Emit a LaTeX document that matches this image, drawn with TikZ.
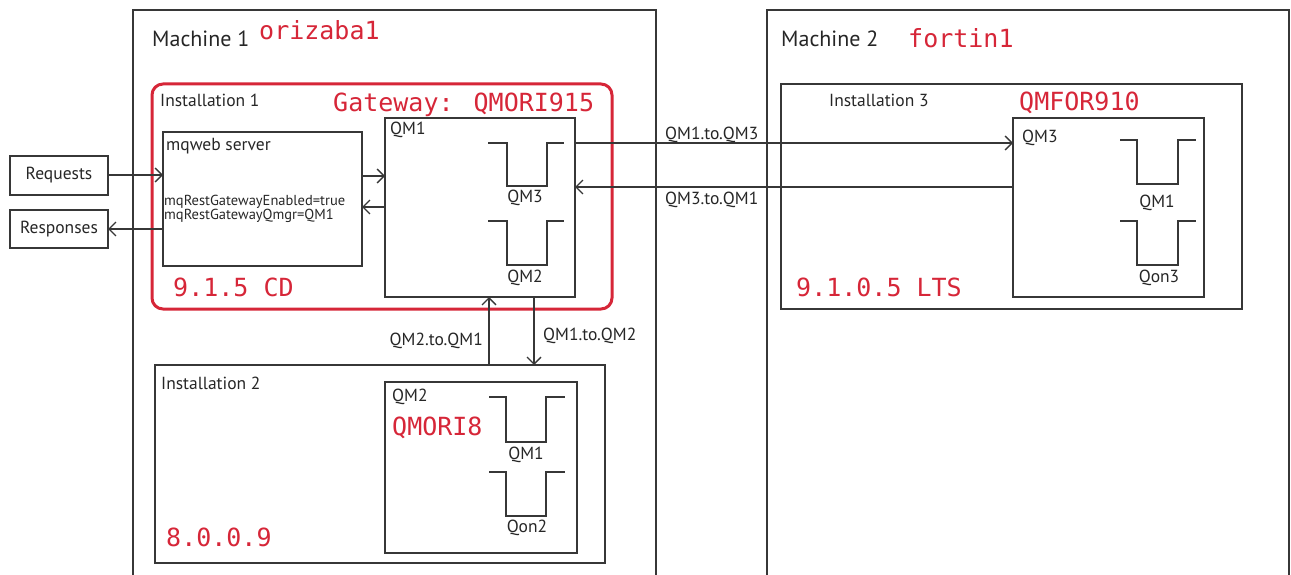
\documentclass[tikz,border=0pt]{standalone}
\usepackage{fontspec}
\setmainfont{PT Sans}
\newfontfamily\redmono{DejaVu Sans Mono}
\usetikzlibrary{fit,arrows.meta}
\definecolor{ibmred}{RGB}{214,38,56}
\definecolor{lineg}{RGB}{55,55,55}
\tikzset{
  box/.style={draw=lineg, line width=1.3pt, inner sep=0pt, outer sep=0pt},
  redbox/.style={draw=ibmred, line width=3pt, rounded corners=11pt, inner sep=0pt, outer sep=0pt},
  arr/.style={draw=lineg, line width=1.3pt, -{Straight Barb[length=7pt,width=14pt,line width=1.3pt]}},
  queue/.style={draw=lineg, line width=1.3pt},
  lbl/.style={inner sep=0pt, anchor=west, text=black!85},
  big/.style={lbl, font=\fontsize{22}{25}\selectfont},
  mid/.style={lbl, font=\fontsize{17.5}{20}\selectfont},
  small/.style={lbl, font=\fontsize{14.5}{16}\selectfont},
  rmono/.style={inner sep=0pt, anchor=west, text=ibmred, font=\redmono\fontsize{25}{28}\selectfont},
}
\begin{document}
\begin{tikzpicture}[x=1pt,y=-1pt]
\useasboundingbox (0,0) rectangle (1291,575);
\clip (0,0) rectangle (1291,575);
% machines
\node[box, fit={(133,10) (656,600)}] (m1) {};
\node[box, fit={(767,10) (1289,600)}] (m2) {};
\node[big] (m1t) at (152,39) {Machine 1};
\node[rmono] (m1n) at (259,30) {orizaba1};
\node[big] (m2t) at (781,39) {Machine 2};
\node[rmono] (m2n) at (908,38) {fortin1};
% installation 1
\node[redbox, fit={(152,84) (612,309)}] (inst1) {};
\node[mid] (inst1t) at (160,100) {Installation 1};
\node[rmono] (gw) at (333,105) {Gateway: QMORI915};
\node[rmono] (v1) at (173,287) {9.1.5 CD};
\node[box, fit={(163,132) (362,266)}] (mqweb) {};
\node[mid] (mqwebt) at (166,146) {mqweb server};
\node[small] (prop1) at (164,202) {mqRestGatewayEnabled=true};
\node[small] (prop2) at (164,216) {mqRestGatewayQmgr=QM1};
\node[box, fit={(385,118) (575,297)}] (qm1) {};
\node[mid] (qm1t) at (390,130) {QM1};
\draw[queue] (488,143) -- (507,143) -- (507,186) -- (547,186) -- (547,143) -- (564,143);
\node[mid, anchor=center] (q13) at (525,198) {QM3};
\draw[queue] (488,221) -- (507,221) -- (507,265) -- (547,265) -- (547,221) -- (564,221);
\node[mid, anchor=center] (q12) at (525,278) {QM2};
% requests / responses
\node[box, fit={(10,156) (108,195)}] (req) {};
\node[mid, anchor=center] at (req.center) {Requests};
\node[box, fit={(10,210) (108,248)}] (resp) {};
\node[mid, anchor=center] at (resp.center) {Responses};
% installation 3
\node[box, fit={(781,84) (1242,309)}] (inst3) {};
\node[mid] (inst3t) at (829,100) {Installation 3};
\node[rmono] (qmfor) at (1019,103) {QMFOR910};
\node[rmono] (v3) at (796,287) {9.1.0.5 LTS};
\node[box, fit={(1013,118) (1204,297)}] (qm3) {};
\node[mid] (qm3t) at (1022,138) {QM3};
\draw[queue] (1120,140) -- (1137,140) -- (1137,184) -- (1178,184) -- (1178,140) -- (1196,140);
\node[mid, anchor=center] (q31) at (1157,203) {QM1};
\draw[queue] (1120,221) -- (1137,221) -- (1137,265) -- (1178,265) -- (1178,221) -- (1196,221);
\node[mid, anchor=center] (q3on) at (1159,278) {Qon3};
% installation 2
\node[box, fit={(155,365) (605,563)}] (inst2) {};
\node[mid] (inst2t) at (161,383) {Installation 2};
\node[rmono] (v2) at (166,537) {8.0.0.9};
\node[box, fit={(385,382) (577,553)}] (qm2) {};
\node[mid] (qm2t) at (392,397) {QM2};
\node[rmono] (qmori8) at (392,428) {QMORI8};
\draw[queue] (489,397) -- (506,397) -- (506,442) -- (546,442) -- (546,397) -- (565,397);
\node[mid, anchor=center] (q21) at (526,455) {QM1};
\draw[queue] (489,472) -- (506,472) -- (506,516) -- (546,516) -- (546,472) -- (565,472);
\node[mid, anchor=center] (q2on) at (527,528) {Qon2};
% connectors
\draw[arr] (req.east |- 0,175) -- (mqweb.west |- 0,175);
\draw[arr] (mqweb.west |- resp.east) -- (resp.east);
\draw[arr] (mqweb.east |- 0,176) -- (qm1.west |- 0,176);
\draw[arr] (qm1.west |- 0,207) -- (mqweb.east |- 0,207);
\draw[arr] (qm1.east |- 0,143) -- (qm3.west |- 0,143);
\draw[arr] (qm3.west |- 0,187) -- (qm1.east |- 0,187);
\draw[arr] (inst2.north -| 489,0) -- (qm1.south -| 489,0);
\draw[arr] (qm1.south -| 534,0) -- (inst2.north -| 534,0);
\node[mid] (l13) at (665,135) {QM1.to.QM3};
\node[mid] (l31) at (665,200) {QM3.to.QM1};
\node[mid, anchor=east] (l21) at (483,341) {QM2.to.QM1};
\node[mid] (l12) at (543,336) {QM1.to.QM2};
\end{tikzpicture}
\end{document}
